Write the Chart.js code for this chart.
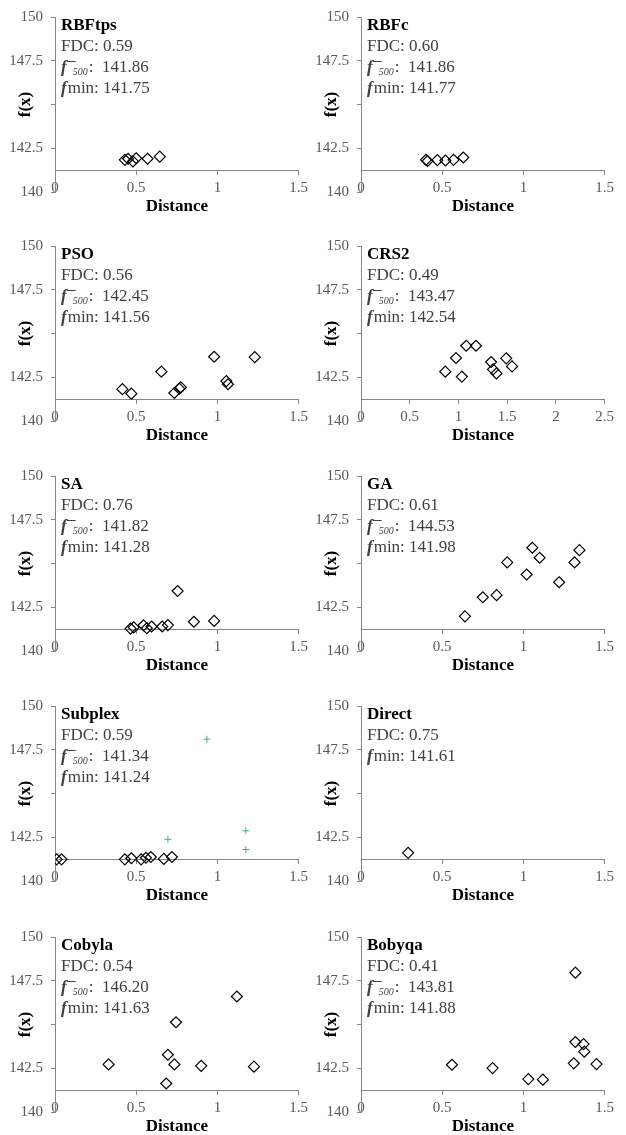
<!DOCTYPE html>
<html>
<head>
<meta charset="utf-8" />
<title>FDC scatter plots</title>
<style>
  body { margin: 0; background: #fff; overflow: hidden; }
  canvas { position: absolute; }
</style>
</head>
<body>
<div id="wrap"></div>
<script src="https://cdn.jsdelivr.net/npm/chart.js@4/dist/chart.umd.min.js"></script>
<script>
// panel labels
const names = ["RBFtps", "RBFc", "PSO", "CRS2", "SA", "GA", "Subplex", "Direct", "Cobyla", "Bobyqa"];
const fdc = ["0.59", "0.60", "0.56", "0.49", "0.76", "0.61", "0.59", "0.75", "0.54", "0.41"];
const fMean500 = ["141.86", "141.86", "142.45", "143.47", "141.82", "144.53", "141.34", null, "146.20", "143.81"];
const fMin = ["141.75", "141.77", "141.56", "142.54", "141.28", "141.98", "141.24", "141.61", "141.63", "141.88"];
const xMax = [1.5, 1.5, 1.5, 2.5, 1.5, 1.5, 1.5, 1.5, 1.5, 1.5];
const yMin = 140, yMax = 150, yStep = 2.5;
const axisCross = 141.24;

// distance vs f(x) for each algorithm
const rbftpsX = [0.43, 0.45, 0.48, 0.50, 0.57, 0.645];
const rbftpsY = [141.84, 141.90, 141.75, 141.93, 141.90, 142.02];
const rbfcX = [0.40, 0.41, 0.47, 0.52, 0.57, 0.63];
const rbfcY = [141.84, 141.77, 141.82, 141.80, 141.84, 141.97];
const psoX = [0.415, 0.47, 0.655, 0.735, 0.765, 0.775, 0.98, 1.055, 1.065, 1.23];
const psoY = [141.82, 141.56, 142.82, 141.60, 141.85, 141.92, 143.67, 142.28, 142.10, 143.65];
const crs2X = [0.865, 0.975, 1.035, 1.08, 1.18, 1.335, 1.355, 1.39, 1.49, 1.55];
const crs2Y = [142.82, 143.60, 142.54, 144.30, 144.30, 143.37, 142.95, 142.72, 143.58, 143.12];
const saX = [0.465, 0.485, 0.545, 0.565, 0.595, 0.66, 0.695, 0.755, 0.855, 0.98];
const saY = [141.28, 141.35, 141.47, 141.30, 141.40, 141.40, 141.48, 143.43, 141.67, 141.72];
const gaX = [0.64, 0.75, 0.835, 0.90, 1.02, 1.055, 1.10, 1.22, 1.315, 1.345];
const gaY = [141.98, 143.07, 143.19, 145.06, 144.37, 145.90, 145.33, 143.93, 145.06, 145.76];
const subplexX = [0.01, 0.04, 0.43, 0.47, 0.53, 0.56, 0.59, 0.67, 0.72];
const subplexY = [141.24, 141.24, 141.24, 141.30, 141.24, 141.33, 141.37, 141.26, 141.37];
const subplexExtraX = [0.695, 0.935, 1.175, 1.175];
const subplexExtraY = [142.38, 148.10, 142.87, 141.80];
const directX = [0.29];
const directY = [141.61];
const cobylaX = [0.33, 0.685, 0.695, 0.735, 0.745, 0.90, 1.12, 1.225];
const cobylaY = [142.72, 141.63, 143.27, 142.72, 145.13, 142.64, 146.60, 142.59];
const bobyqaX = [0.56, 0.81, 1.03, 1.12, 1.31, 1.32, 1.32, 1.37, 1.375, 1.45];
const bobyqaY = [142.70, 142.51, 141.88, 141.85, 142.78, 147.96, 144.00, 143.88, 143.45, 142.74];

const seriesX = [rbftpsX, rbfcX, psoX, crs2X, saX, gaX, subplexX, directX, cobylaX, bobyqaX];
const seriesY = [rbftpsY, rbfcY, psoY, crs2Y, saY, gaY, subplexY, directY, cobylaY, bobyqaY];

const FONT = '"Liberation Serif", "Times New Roman", serif';
const AXIS = '#868686';
const rowTops = [0, 229, 459, 689, 920];
const colLefts = [0, 306];

function toPoints(xs, ys) {
  return xs.map((x, i) => ({ x: x, y: ys[i] }));
}

// text box in the upper left of each plot
const labelBox = {
  id: 'labelBox',
  afterDraw(chart) {
    const i = chart.options.plugins.labelBox.index;
    const ctx = chart.ctx;
    const a = chart.chartArea;
    const x = a.left + 6;
    let y = a.top + 9;
    ctx.save();
    ctx.textBaseline = 'middle';
    ctx.textAlign = 'left';
    ctx.fillStyle = '#000';
    ctx.font = 'bold 17px ' + FONT;
    ctx.fillText(names[i], x, y);

    ctx.fillStyle = '#404040';
    y += 21;
    ctx.font = '17px ' + FONT;
    ctx.fillText('FDC: ' + fdc[i], x, y);

    if (fMean500[i]) {
      y += 21;
      ctx.font = 'italic bold 17px ' + FONT;
      ctx.fillText('f', x, y);
      const fw = ctx.measureText('f').width;
      ctx.strokeStyle = '#404040';
      ctx.lineWidth = 1;
      ctx.beginPath();
      ctx.moveTo(x + fw, y - 6.5);
      ctx.lineTo(x + fw + 9, y - 6.5);
      ctx.stroke();
      ctx.font = 'italic 10px ' + FONT;
      ctx.fillText('500', x + fw + 6, y + 4);
      const sw = ctx.measureText('500').width;
      ctx.font = '17px ' + FONT;
      ctx.fillText(':  ' + fMean500[i], x + fw + 7 + sw, y);
    }

    y += 21;
    ctx.font = 'italic bold 17px ' + FONT;
    ctx.fillText('f', x, y);
    const fw2 = ctx.measureText('f').width;
    ctx.font = '17px ' + FONT;
    ctx.fillText('min: ' + fMin[i], x + fw2 + 1, y);
    ctx.restore();
  }
};

const wrap = document.getElementById('wrap');
for (let i = 0; i < names.length; i++) {
  const cv = document.createElement('canvas');
  cv.width = 313;
  cv.height = 215;
  cv.style.left = colLefts[i % 2] + 'px';
  cv.style.top = rowTops[Math.floor(i / 2)] + 'px';
  wrap.appendChild(cv);

  const datasets = [{
    data: toPoints(seriesX[i], seriesY[i]),
    pointStyle: 'rectRot',
    pointRadius: 5.5,
    pointBorderColor: '#000',
    pointBackgroundColor: 'rgba(0,0,0,0)',
    pointBorderWidth: 1.2
  }];
  if (names[i] === 'Subplex') {
    datasets.push({
      data: toPoints(subplexExtraX, subplexExtraY),
      pointStyle: 'cross',
      pointRadius: 3.5,
      pointBorderColor: '#3bb873',
      pointBorderWidth: 1
    });
  }

  new Chart(cv, {
    type: 'scatter',
    data: { datasets: datasets },
    options: {
      responsive: false,
      animation: false,
      layout: { padding: { top: 13, bottom: 23, left: 0, right: 11 } },
      plugins: {
        legend: { display: false },
        tooltip: { enabled: false },
        labelBox: { index: i }
      },
      scales: {
        x: {
          type: 'linear',
          position: { y: axisCross },
          min: 0,
          max: xMax[i],
          grid: { display: true, drawOnChartArea: false, drawTicks: true, tickLength: 4, color: AXIS },
          border: { display: true, color: AXIS, width: 1 },
          ticks: {
            stepSize: 0.5,
            padding: 5,
            color: '#595959',
            font: { family: FONT, size: 15 },
            maxRotation: 0,
            callback: v => String(v)
          },
          title: {
            display: true,
            text: 'Distance',
            color: '#000',
            font: { family: FONT, size: 17, weight: 'bold' },
            padding: { top: -6, bottom: 0 }
          }
        },
        y: {
          type: 'linear',
          position: 'left',
          min: yMin,
          max: yMax,
          afterFit(scale) { scale.width = 55; },
          grid: { display: true, drawOnChartArea: false, drawTicks: true, tickLength: 4, color: AXIS },
          border: { display: true, color: AXIS, width: 1 },
          ticks: {
            stepSize: yStep,
            padding: 8,
            color: '#595959',
            font: { family: FONT, size: 15 },
            callback: v => (v === 145 ? '' : String(v))
          },
          title: {
            display: true,
            text: 'f(x)',
            color: '#000',
            font: { family: FONT, size: 17, weight: 'bold' },
            padding: { top: 15, bottom: 0 }
          }
        }
      }
    },
    plugins: [labelBox]
  });
}
</script>
</body>
</html>
